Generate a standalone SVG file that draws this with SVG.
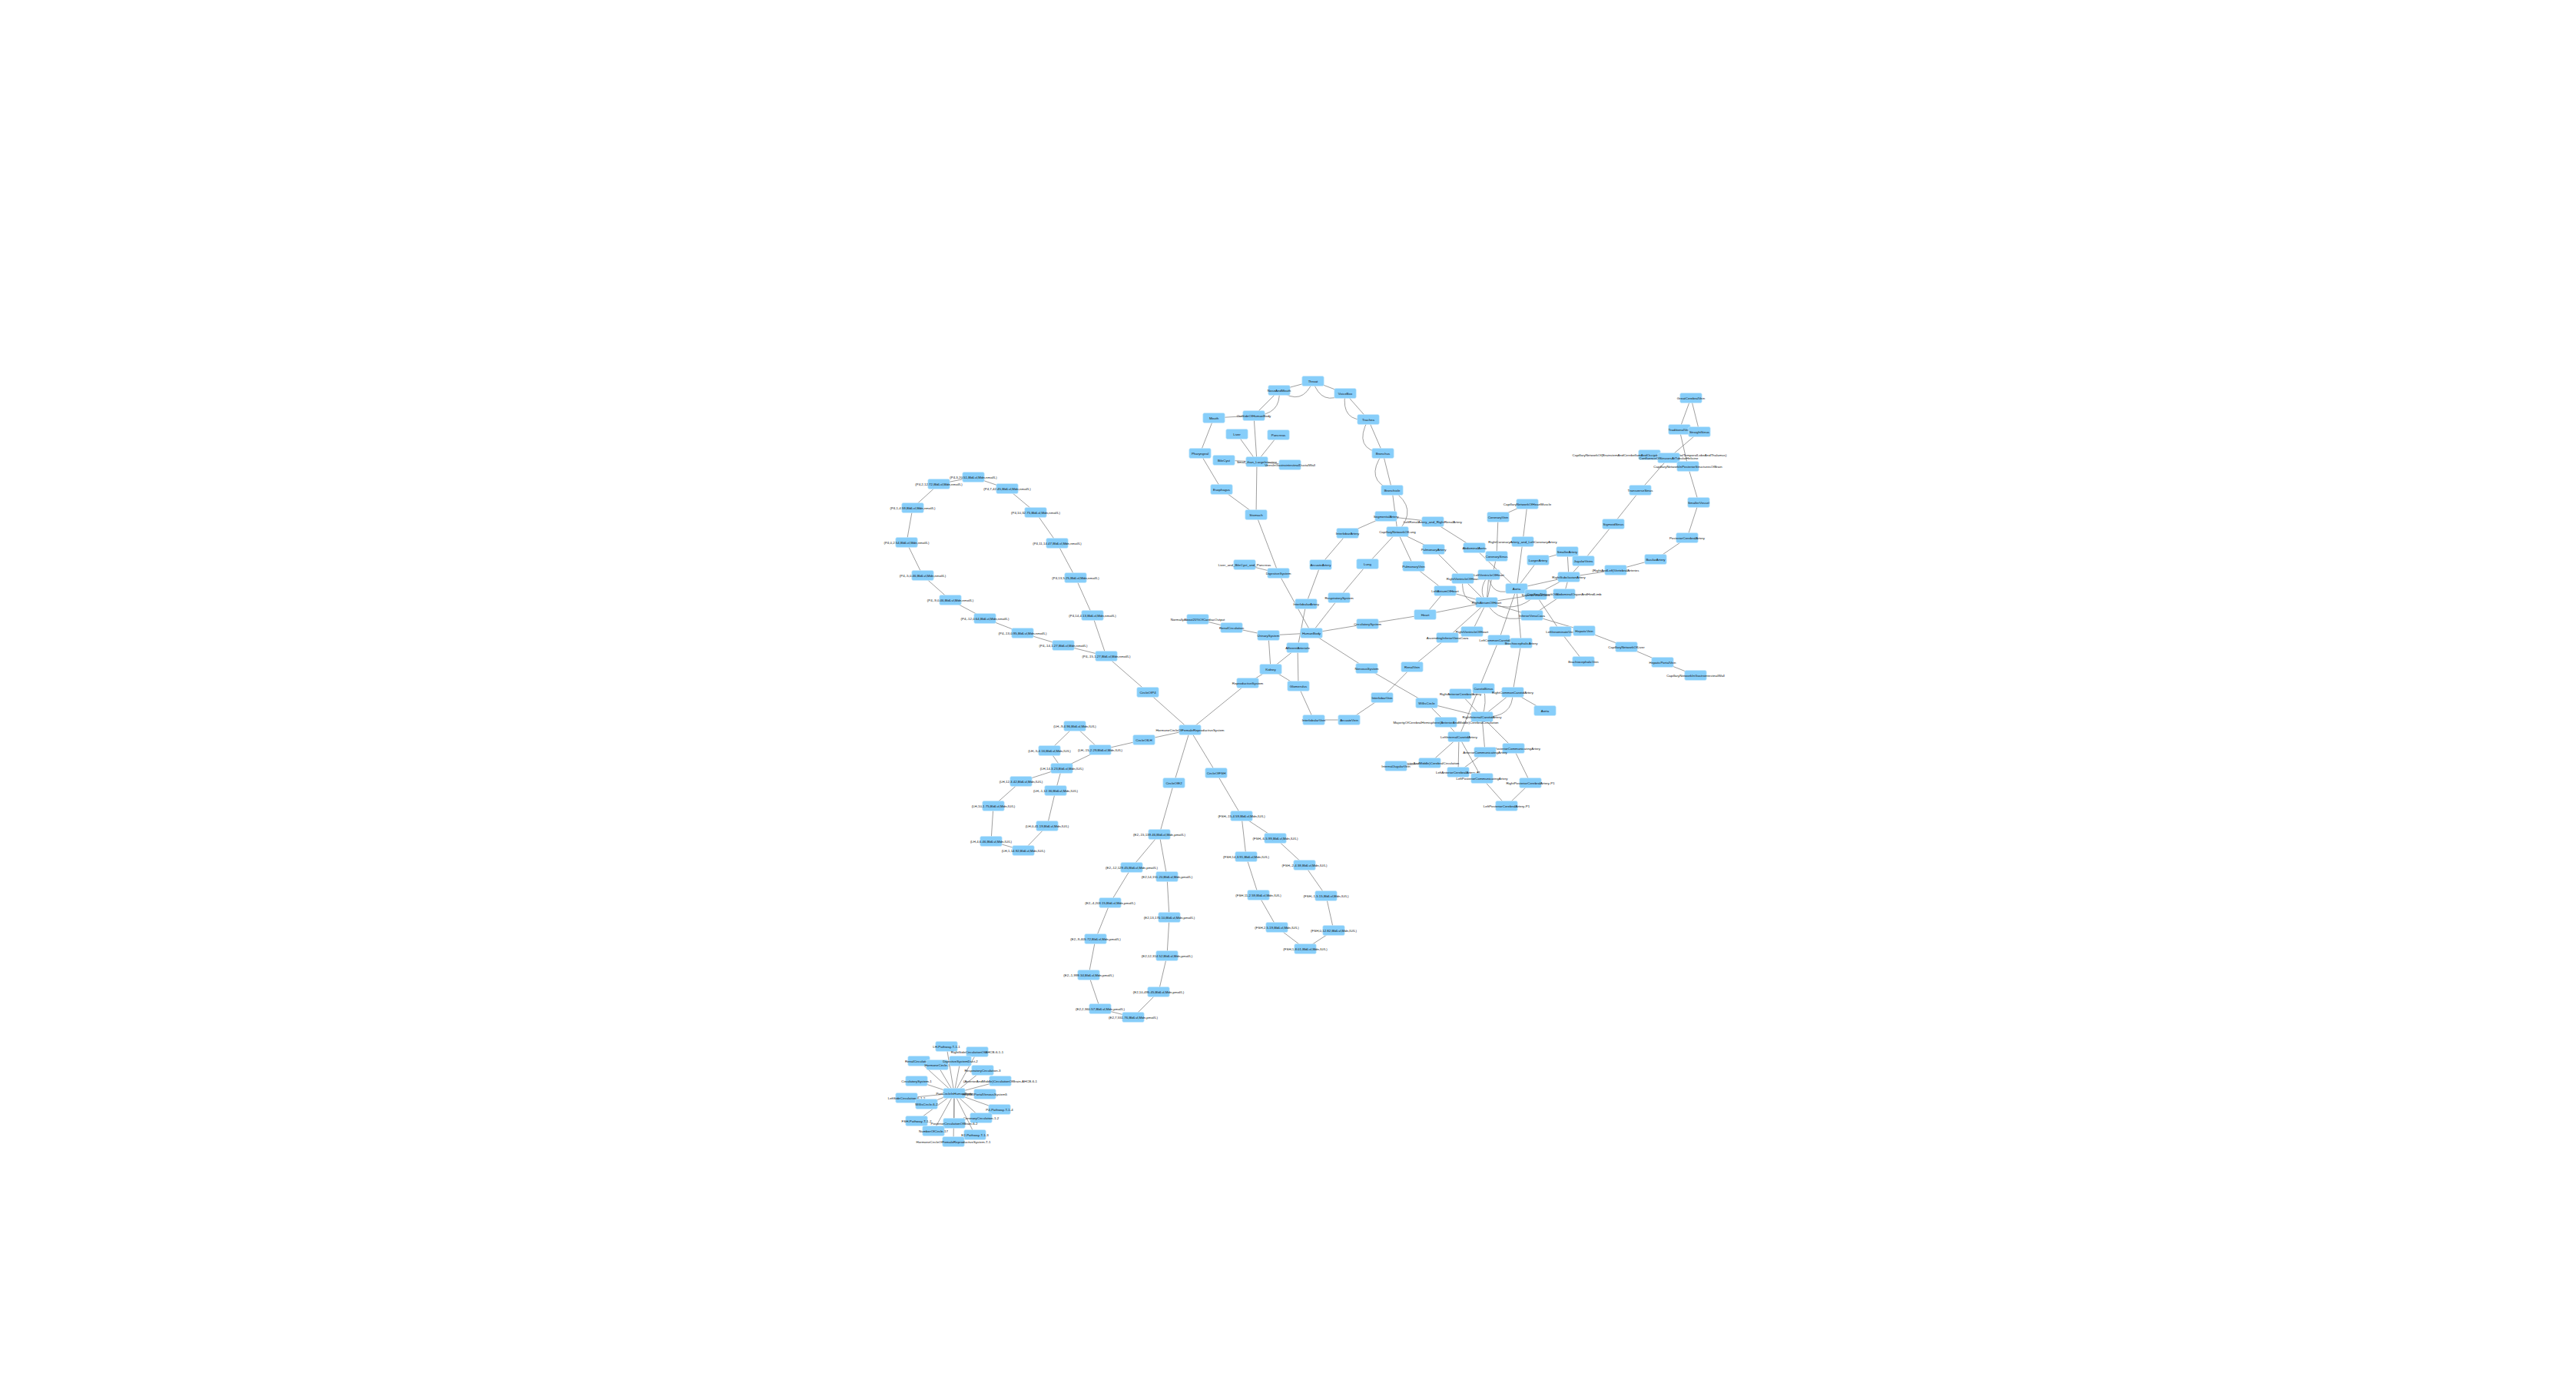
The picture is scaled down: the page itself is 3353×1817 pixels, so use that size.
<svg xmlns="http://www.w3.org/2000/svg" width="3353" height="1817" viewBox="0 0 3353 1817">
<style>
.e line,.e path{stroke:#7d7d7d;stroke-width:0.75;fill:none}
.n use{fill:#87CEFA;stroke:#CDEBFB;stroke-width:0.6}
.n text{font-family:"Liberation Sans",Arial,sans-serif;font-size:4.4px;fill:#111111;text-anchor:middle}
</style>
<defs><rect id="b" x="-14.25" y="-6.5" width="28.5" height="13" rx="2"/></defs>
<rect width="3353" height="1817" fill="#ffffff"/>
<g id="edges" class="e">
<line x1="1709" y1="496" x2="1665" y2="508"/>
<line x1="1709" y1="496" x2="1751" y2="512"/>
<line x1="1665" y1="508" x2="1632" y2="541"/>
<line x1="1751" y1="512" x2="1781" y2="546"/>
<line x1="1781" y1="546" x2="1800" y2="590"/>
<line x1="1800" y1="590" x2="1812" y2="638"/>
<line x1="1812" y1="638" x2="1819" y2="692"/>
<path d="M1709,496 Q1695,530 1665,508"/>
<path d="M1709,496 Q1720,530 1751,512"/>
<path d="M1665,508 Q1668,540 1632,541"/>
<path d="M1751,512 Q1745,550 1781,546"/>
<path d="M1781,546 Q1760,585 1800,590"/>
<path d="M1800,590 Q1775,625 1812,638"/>
<path d="M1812,638 Q1848,662 1819,692"/>
<line x1="1580" y1="544" x2="1632" y2="541"/>
<line x1="1580" y1="544" x2="1562" y2="590"/>
<line x1="1562" y1="590" x2="1590" y2="637"/>
<line x1="1590" y1="637" x2="1635" y2="670"/>
<line x1="1632" y1="541" x2="1636" y2="601"/>
<line x1="1610" y1="565" x2="1636" y2="601"/>
<line x1="1664" y1="566" x2="1636" y2="601"/>
<line x1="1593" y1="599" x2="1636" y2="601"/>
<line x1="1636" y1="601" x2="1679" y2="605"/>
<line x1="1636" y1="601" x2="1635" y2="670"/>
<line x1="1635" y1="670" x2="1664" y2="746"/>
<line x1="1620" y1="735" x2="1664" y2="746"/>
<line x1="1664" y1="746" x2="1707" y2="824"/>
<line x1="1804" y1="672" x2="1754" y2="694"/>
<line x1="1804" y1="672" x2="1865" y2="679"/>
<line x1="1865" y1="679" x2="1919" y2="713"/>
<line x1="1754" y1="694" x2="1719" y2="735"/>
<line x1="1719" y1="735" x2="1700" y2="786"/>
<line x1="1700" y1="786" x2="1689" y2="843"/>
<line x1="1819" y1="692" x2="1780" y2="734"/>
<line x1="1819" y1="692" x2="1866" y2="715"/>
<line x1="1819" y1="692" x2="1840" y2="737"/>
<line x1="1780" y1="734" x2="1743" y2="778"/>
<line x1="1866" y1="715" x2="1904" y2="753"/>
<line x1="1840" y1="737" x2="1881" y2="769"/>
<line x1="1881" y1="769" x2="1855" y2="800"/>
<line x1="1881" y1="769" x2="1935" y2="784"/>
<line x1="1855" y1="800" x2="1935" y2="784"/>
<line x1="1855" y1="800" x2="1780" y2="812"/>
<line x1="1780" y1="812" x2="1707" y2="824"/>
<line x1="1707" y1="824" x2="1743" y2="778"/>
<line x1="1707" y1="824" x2="1651" y2="827"/>
<line x1="1707" y1="824" x2="1779" y2="870"/>
<line x1="1651" y1="827" x2="1603" y2="817"/>
<line x1="1603" y1="817" x2="1559" y2="806"/>
<line x1="1651" y1="827" x2="1654" y2="871"/>
<line x1="1654" y1="871" x2="1689" y2="843"/>
<line x1="1654" y1="871" x2="1690" y2="893"/>
<line x1="1689" y1="843" x2="1690" y2="893"/>
<line x1="1690" y1="893" x2="1710" y2="937"/>
<line x1="1710" y1="937" x2="1756" y2="937"/>
<line x1="1756" y1="937" x2="1799" y2="908"/>
<line x1="1799" y1="908" x2="1838" y2="868"/>
<line x1="1838" y1="868" x2="1884" y2="830"/>
<line x1="1654" y1="871" x2="1624" y2="889"/>
<line x1="1624" y1="889" x2="1549" y2="950"/>
<line x1="1779" y1="870" x2="1857" y2="915"/>
<line x1="1857" y1="915" x2="1929" y2="933"/>
<line x1="1857" y1="915" x2="1882" y2="940"/>
<line x1="1882" y1="940" x2="1899" y2="959"/>
<line x1="1901" y1="903" x2="1929" y2="933"/>
<line x1="1929" y1="933" x2="1970" y2="974"/>
<line x1="1929" y1="933" x2="1933" y2="979"/>
<line x1="1899" y1="959" x2="1861" y2="993"/>
<line x1="1899" y1="959" x2="1898" y2="1005"/>
<line x1="1899" y1="959" x2="1929" y2="1013"/>
<line x1="1933" y1="979" x2="1898" y2="1005"/>
<line x1="1861" y1="993" x2="1817" y2="997"/>
<line x1="1970" y1="974" x2="1992" y2="1019"/>
<line x1="1929" y1="1013" x2="1961" y2="1049"/>
<line x1="1992" y1="1019" x2="1961" y2="1049"/>
<line x1="1951" y1="833" x2="1899" y2="959"/>
<line x1="1969" y1="901" x2="1929" y2="933"/>
<line x1="1969" y1="901" x2="2011" y2="925"/>
<line x1="1980" y1="837" x2="1969" y2="901"/>
<path d="M1931,896 Q1936,915 1929,933"/>
<path d="M1969,901 Q1970,935 1929,933"/>
<line x1="1974" y1="766" x2="1980" y2="837"/>
<line x1="1974" y1="766" x2="1951" y2="833"/>
<line x1="1974" y1="766" x2="1919" y2="713"/>
<line x1="1974" y1="766" x2="1982" y2="705"/>
<line x1="1974" y1="766" x2="2002" y2="729"/>
<line x1="1974" y1="766" x2="2042" y2="751"/>
<line x1="1982" y1="705" x2="1988" y2="656"/>
<line x1="1988" y1="656" x2="1950" y2="673"/>
<line x1="1950" y1="673" x2="1948" y2="724"/>
<line x1="1948" y1="724" x2="1935" y2="784"/>
<line x1="2002" y1="729" x2="2040" y2="718"/>
<line x1="2040" y1="718" x2="2042" y2="751"/>
<line x1="2061" y1="730" x2="2042" y2="751"/>
<line x1="2042" y1="751" x2="1999" y2="774"/>
<line x1="2042" y1="751" x2="2036" y2="773"/>
<line x1="2042" y1="751" x2="2103" y2="742"/>
<line x1="2103" y1="742" x2="2155" y2="728"/>
<line x1="2155" y1="728" x2="2196" y2="700"/>
<line x1="2196" y1="700" x2="2211" y2="654"/>
<line x1="2211" y1="654" x2="2197" y2="607"/>
<line x1="2197" y1="607" x2="2186" y2="559"/>
<line x1="2186" y1="559" x2="2201" y2="518"/>
<line x1="2201" y1="518" x2="2212" y2="562"/>
<line x1="2212" y1="562" x2="2172" y2="596"/>
<line x1="2172" y1="596" x2="2135" y2="638"/>
<line x1="2135" y1="638" x2="2100" y2="682"/>
<line x1="2100" y1="682" x2="2061" y2="730"/>
<line x1="1904" y1="753" x2="1935" y2="784"/>
<line x1="1938" y1="748" x2="1935" y2="784"/>
<line x1="1935" y1="784" x2="1999" y2="774"/>
<line x1="1935" y1="784" x2="1994" y2="801"/>
<line x1="1935" y1="784" x2="1916" y2="822"/>
<line x1="1935" y1="784" x2="1884" y2="830"/>
<path d="M1904,753 Q1900,790 1935,784"/>
<path d="M1938,748 Q1922,768 1935,784"/>
<path d="M1938,748 Q1940,780 1974,766"/>
<path d="M1935,784 Q1950,815 1994,801"/>
<path d="M1935,784 Q1975,800 1999,774"/>
<line x1="1999" y1="774" x2="2031" y2="822"/>
<line x1="2031" y1="822" x2="2061" y2="861"/>
<line x1="1994" y1="801" x2="2062" y2="821"/>
<line x1="1994" y1="801" x2="2036" y2="773"/>
<line x1="2062" y1="821" x2="2117" y2="842"/>
<line x1="2117" y1="842" x2="2164" y2="862"/>
<line x1="2164" y1="862" x2="2207" y2="879"/>
<line x1="1549" y1="950" x2="1494" y2="901"/>
<line x1="1549" y1="950" x2="1489" y2="963"/>
<line x1="1549" y1="950" x2="1528" y2="1019"/>
<line x1="1549" y1="950" x2="1583" y2="1006"/>
<line x1="1494" y1="901" x2="1440" y2="854"/>
<line x1="1489" y1="963" x2="1432" y2="976"/>
<line x1="1528" y1="1019" x2="1509" y2="1086"/>
<line x1="1583" y1="1006" x2="1616" y2="1062"/>
<line x1="1267" y1="621" x2="1311" y2="636"/>
<line x1="1311" y1="636" x2="1348" y2="667"/>
<line x1="1348" y1="667" x2="1376" y2="707"/>
<line x1="1376" y1="707" x2="1400" y2="752"/>
<line x1="1400" y1="752" x2="1422" y2="801"/>
<line x1="1422" y1="801" x2="1440" y2="854"/>
<line x1="1440" y1="854" x2="1384" y2="840"/>
<line x1="1384" y1="840" x2="1331" y2="824"/>
<line x1="1331" y1="824" x2="1282" y2="805"/>
<line x1="1282" y1="805" x2="1237" y2="781"/>
<line x1="1237" y1="781" x2="1201" y2="749"/>
<line x1="1201" y1="749" x2="1180" y2="706"/>
<line x1="1180" y1="706" x2="1188" y2="661"/>
<line x1="1188" y1="661" x2="1222" y2="630"/>
<line x1="1222" y1="630" x2="1267" y2="621"/>
<line x1="1399" y1="945" x2="1366" y2="977"/>
<line x1="1399" y1="945" x2="1432" y2="976"/>
<line x1="1432" y1="976" x2="1382" y2="1000"/>
<line x1="1366" y1="977" x2="1382" y2="1000"/>
<line x1="1382" y1="1000" x2="1329" y2="1017"/>
<line x1="1382" y1="1000" x2="1374" y2="1029"/>
<line x1="1329" y1="1017" x2="1293" y2="1049"/>
<line x1="1293" y1="1049" x2="1290" y2="1095"/>
<line x1="1290" y1="1095" x2="1332" y2="1107"/>
<line x1="1332" y1="1107" x2="1363" y2="1075"/>
<line x1="1363" y1="1075" x2="1374" y2="1029"/>
<line x1="1509" y1="1086" x2="1473" y2="1129"/>
<line x1="1509" y1="1086" x2="1519" y2="1141"/>
<line x1="1473" y1="1129" x2="1445" y2="1175"/>
<line x1="1445" y1="1175" x2="1426" y2="1222"/>
<line x1="1426" y1="1222" x2="1417" y2="1269"/>
<line x1="1417" y1="1269" x2="1432" y2="1313"/>
<line x1="1432" y1="1313" x2="1475" y2="1324"/>
<line x1="1475" y1="1324" x2="1508" y2="1291"/>
<line x1="1508" y1="1291" x2="1519" y2="1244"/>
<line x1="1519" y1="1244" x2="1522" y2="1194"/>
<line x1="1522" y1="1194" x2="1519" y2="1141"/>
<line x1="1616" y1="1062" x2="1660" y2="1091"/>
<line x1="1616" y1="1062" x2="1622" y2="1115"/>
<line x1="1660" y1="1091" x2="1698" y2="1126"/>
<line x1="1698" y1="1126" x2="1726" y2="1166"/>
<line x1="1726" y1="1166" x2="1736" y2="1211"/>
<line x1="1736" y1="1211" x2="1699" y2="1235"/>
<line x1="1699" y1="1235" x2="1662" y2="1207"/>
<line x1="1662" y1="1207" x2="1638" y2="1165"/>
<line x1="1638" y1="1165" x2="1622" y2="1115"/>
<line x1="1242" y1="1423" x2="1232" y2="1362"/>
<line x1="1242" y1="1423" x2="1272" y2="1369"/>
<line x1="1242" y1="1423" x2="1196" y2="1381"/>
<line x1="1242" y1="1423" x2="1220" y2="1386"/>
<line x1="1242" y1="1423" x2="1250" y2="1381"/>
<line x1="1242" y1="1423" x2="1279" y2="1393"/>
<line x1="1242" y1="1423" x2="1193" y2="1407"/>
<line x1="1242" y1="1423" x2="1302" y2="1407"/>
<line x1="1242" y1="1423" x2="1180" y2="1429"/>
<line x1="1242" y1="1423" x2="1206" y2="1437"/>
<line x1="1242" y1="1423" x2="1282" y2="1424"/>
<line x1="1242" y1="1423" x2="1301" y2="1444"/>
<line x1="1242" y1="1423" x2="1277" y2="1455"/>
<line x1="1242" y1="1423" x2="1193" y2="1459"/>
<line x1="1242" y1="1423" x2="1242" y2="1462"/>
<line x1="1242" y1="1423" x2="1215" y2="1472"/>
<line x1="1242" y1="1423" x2="1269" y2="1477"/>
<line x1="1242" y1="1423" x2="1241" y2="1486"/>
</g>
<g id="nodes">
<g id="n-Throat" class="n"><use href="#b" x="1709" y="496"/><text x="1709" y="497.6">Throat</text></g>
<g id="n-NoseAndMouth" class="n"><use href="#b" x="1665" y="508"/><text x="1665" y="509.6">NoseAndMouth</text></g>
<g id="n-VoiceBox" class="n"><use href="#b" x="1751" y="512"/><text x="1751" y="513.6">VoiceBox</text></g>
<g id="n-OutSideOfHumanBody" class="n"><use href="#b" x="1632" y="541"/><text x="1632" y="542.6">OutSideOfHumanBody</text></g>
<g id="n-Mouth" class="n"><use href="#b" x="1580" y="544"/><text x="1580" y="545.6">Mouth</text></g>
<g id="n-Trachea" class="n"><use href="#b" x="1781" y="546"/><text x="1781" y="547.6">Trachea</text></g>
<g id="n-Liver" class="n"><use href="#b" x="1610" y="565"/><text x="1610" y="566.6">Liver</text></g>
<g id="n-Pancreas" class="n"><use href="#b" x="1664" y="566"/><text x="1664" y="567.6">Pancreas</text></g>
<g id="n-Pharyngeal" class="n"><use href="#b" x="1562" y="590"/><text x="1562" y="591.6">Pharyngeal</text></g>
<g id="n-Bronchus" class="n"><use href="#b" x="1800" y="590"/><text x="1800" y="591.6">Bronchus</text></g>
<g id="n-BileCyst" class="n"><use href="#b" x="1593" y="599"/><text x="1593" y="600.6">BileCyst</text></g>
<g id="n-SmallLargeIntestine" class="n"><use href="#b" x="1636" y="601"/><text x="1636" y="602.6">Small_than_LargeIntestine</text></g>
<g id="n-VeinsInGIWall" class="n"><use href="#b" x="1679" y="605"/><text x="1679" y="606.6">VeinsInGastrointestinalDuctalWall</text></g>
<g id="n-Esophagus" class="n"><use href="#b" x="1590" y="637"/><text x="1590" y="638.6">Esophagus</text></g>
<g id="n-Bronchiole" class="n"><use href="#b" x="1812" y="638"/><text x="1812" y="639.6">Bronchiole</text></g>
<g id="n-Stomach" class="n"><use href="#b" x="1635" y="670"/><text x="1635" y="671.6">Stomach</text></g>
<g id="n-SegmentalArtery" class="n"><use href="#b" x="1804" y="672"/><text x="1804" y="673.6">SegmentalArtery</text></g>
<g id="n-RenalArteries" class="n"><use href="#b" x="1865" y="679"/><text x="1865" y="680.6">LeftRenalArtery_and_RightRenalArtery</text></g>
<g id="n-CapillaryNetworkOfLung" class="n"><use href="#b" x="1819" y="692"/><text x="1819" y="693.6">CapillaryNetworkOfLung</text></g>
<g id="n-InterlobarArtery" class="n"><use href="#b" x="1754" y="694"/><text x="1754" y="695.6">InterlobarArtery</text></g>
<g id="n-PulmonaryArtery" class="n"><use href="#b" x="1866" y="715"/><text x="1866" y="716.6">PulmonaryArtery</text></g>
<g id="n-AbdominalAorta" class="n"><use href="#b" x="1919" y="713"/><text x="1919" y="714.6">AbdominalAorta</text></g>
<g id="n-ArcuateArtery" class="n"><use href="#b" x="1719" y="735"/><text x="1719" y="736.6">ArcuateArtery</text></g>
<g id="n-Lung" class="n"><use href="#b" x="1780" y="734"/><text x="1780" y="735.6">Lung</text></g>
<g id="n-LiverBileCystPancreas" class="n"><use href="#b" x="1620" y="735"/><text x="1620" y="736.6">Liver_and_BileCyst_and_Pancreas</text></g>
<g id="n-PulmonaryVein" class="n"><use href="#b" x="1840" y="737"/><text x="1840" y="738.6">PulmonaryVein</text></g>
<g id="n-DigestiveSystem" class="n"><use href="#b" x="1664" y="746"/><text x="1664" y="747.6">DigestiveSystem</text></g>
<g id="n-RightVentricleOfHeart" class="n"><use href="#b" x="1904" y="753"/><text x="1904" y="754.6">RightVentricleOfHeart</text></g>
<g id="n-LeftVentricleOfHeart" class="n"><use href="#b" x="1938" y="748"/><text x="1938" y="749.6">LeftVentricleOfHeart</text></g>
<g id="n-LeftAtriumOfHeart" class="n"><use href="#b" x="1881" y="769"/><text x="1881" y="770.6">LeftAtriumOfHeart</text></g>
<g id="n-RespiratorySystem" class="n"><use href="#b" x="1743" y="778"/><text x="1743" y="779.6">RespiratorySystem</text></g>
<g id="n-InterlobularArtery" class="n"><use href="#b" x="1700" y="786"/><text x="1700" y="787.6">InterlobularArtery</text></g>
<g id="n-RightAtriumOfHeart" class="n"><use href="#b" x="1935" y="784"/><text x="1935" y="785.6">RightAtriumOfHeart</text></g>
<g id="n-Heart" class="n"><use href="#b" x="1855" y="800"/><text x="1855" y="801.6">Heart</text></g>
<g id="n-CardiacOutput" class="n"><use href="#b" x="1559" y="806"/><text x="1559" y="807.6">NormallyAbout20%OfCardiacOutput</text></g>
<g id="n-RenalCirculation" class="n"><use href="#b" x="1603" y="817"/><text x="1603" y="818.6">RenalCirculation</text></g>
<g id="n-UrinarySystem" class="n"><use href="#b" x="1651" y="827"/><text x="1651" y="828.6">UrinarySystem</text></g>
<g id="n-HumanBody" class="n"><use href="#b" x="1707" y="824"/><text x="1707" y="825.6">HumanBody</text></g>
<g id="n-CirculatorySystem" class="n"><use href="#b" x="1780" y="812"/><text x="1780" y="813.6">CirculatorySystem</text></g>
<g id="n-RightVentricleOfHeart2" class="n"><use href="#b" x="1916" y="822"/><text x="1916" y="823.6">RightVentricleOfHeart</text></g>
<g id="n-AscendingInferiorVenaCava" class="n"><use href="#b" x="1884" y="830"/><text x="1884" y="831.6">AscendingInferiorVenaCava</text></g>
<g id="n-AfferentArteriole" class="n"><use href="#b" x="1689" y="843"/><text x="1689" y="844.6">AfferentArteriole</text></g>
<g id="n-Kidney" class="n"><use href="#b" x="1654" y="871"/><text x="1654" y="872.6">Kidney</text></g>
<g id="n-NervousSystem" class="n"><use href="#b" x="1779" y="870"/><text x="1779" y="871.6">NervousSystem</text></g>
<g id="n-RenalVein" class="n"><use href="#b" x="1838" y="868"/><text x="1838" y="869.6">RenalVein</text></g>
<g id="n-ReproductiveSystem" class="n"><use href="#b" x="1624" y="889"/><text x="1624" y="890.6">ReproductiveSystem</text></g>
<g id="n-Glomerulus" class="n"><use href="#b" x="1690" y="893"/><text x="1690" y="894.6">Glomerulus</text></g>
<g id="n-InterlobarVein" class="n"><use href="#b" x="1799" y="908"/><text x="1799" y="909.6">InterlobarVein</text></g>
<g id="n-WillisCircle" class="n"><use href="#b" x="1857" y="915"/><text x="1857" y="916.6">WillisCircle</text></g>
<g id="n-RightAnteriorCerebralArtery" class="n"><use href="#b" x="1901" y="903"/><text x="1901" y="904.6">RightAnteriorCerebralArtery</text></g>
<g id="n-CarotidSinus" class="n"><use href="#b" x="1931" y="896"/><text x="1931" y="897.6">CarotidSinus</text></g>
<g id="n-InterlobularVein" class="n"><use href="#b" x="1710" y="937"/><text x="1710" y="938.6">InterlobularVein</text></g>
<g id="n-ArcuateVein" class="n"><use href="#b" x="1756" y="937"/><text x="1756" y="938.6">ArcuateVein</text></g>
<g id="n-RightInternalCarotidArtery" class="n"><use href="#b" x="1929" y="933"/><text x="1929" y="934.6">RightInternalCarotidArtery</text></g>
<g id="n-MajorityCerebralCirculation" class="n"><use href="#b" x="1882" y="940"/><text x="1882" y="941.6">MajorityOfCerebralHemisphere(AnteriorAndMiddle)CerebralCirculation</text></g>
<g id="n-HormoneCircleOfFemaleReproductiveSystem" class="n"><use href="#b" x="1549" y="950"/><text x="1549" y="951.6">HormoneCircleOfFemaleReproductiveSystem</text></g>
<g id="n-LeftInternalCarotidArtery" class="n"><use href="#b" x="1899" y="959"/><text x="1899" y="960.6">LeftInternalCarotidArtery</text></g>
<g id="n-AnteriorMiddleCerebralCirculation" class="n"><use href="#b" x="1861" y="993"/><text x="1861" y="994.6">(AnteriorAndMiddle)CerebralCirculation</text></g>
<g id="n-InternalJugularVein" class="n"><use href="#b" x="1817" y="997"/><text x="1817" y="998.6">InternalJugularVein</text></g>
<g id="n-RightCommonCarotidArtery" class="n"><use href="#b" x="1969" y="901"/><text x="1969" y="902.6">RightCommonCarotidArtery</text></g>
<g id="n-Aorta2" class="n"><use href="#b" x="2011" y="925"/><text x="2011" y="926.6">Aorta</text></g>
<g id="n-RightPosteriorCommunicatingArtery" class="n"><use href="#b" x="1970" y="974"/><text x="1970" y="975.6">RightPosteriorCommunicatingArtery</text></g>
<g id="n-AnteriorCommunicatingArtery" class="n"><use href="#b" x="1933" y="979"/><text x="1933" y="980.6">AnteriorCommunicatingArtery</text></g>
<g id="n-LeftAnteriorCerebralArteryA1" class="n"><use href="#b" x="1898" y="1005"/><text x="1898" y="1006.6">LeftAnteriorCerebralArtery-A1</text></g>
<g id="n-LeftPosteriorCommunicatingArtery" class="n"><use href="#b" x="1929" y="1013"/><text x="1929" y="1014.6">LeftPosteriorCommunicatingArtery</text></g>
<g id="n-RightPosteriorCerebralArteryP1" class="n"><use href="#b" x="1992" y="1019"/><text x="1992" y="1020.6">RightPosteriorCerebralArtery-P1</text></g>
<g id="n-LeftPosteriorCerebralArteryP1" class="n"><use href="#b" x="1961" y="1049"/><text x="1961" y="1050.6">LeftPosteriorCerebralArtery-P1</text></g>
<g id="n-CoronaryArteries" class="n"><use href="#b" x="1982" y="705"/><text x="1982" y="706.6">RightCoronaryArtery_and_LeftCoronaryArtery</text></g>
<g id="n-CoronarySinus" class="n"><use href="#b" x="1948" y="724"/><text x="1948" y="725.6">CoronarySinus</text></g>
<g id="n-SmallerArtery" class="n"><use href="#b" x="2040" y="718"/><text x="2040" y="719.6">SmallerArtery</text></g>
<g id="n-LargerArtery" class="n"><use href="#b" x="2002" y="729"/><text x="2002" y="730.6">LargerArtery</text></g>
<g id="n-JugularVeins" class="n"><use href="#b" x="2061" y="730"/><text x="2061" y="731.6">JugularVeins</text></g>
<g id="n-BasilarArtery" class="n"><use href="#b" x="2155" y="728"/><text x="2155" y="729.6">BasilarArtery</text></g>
<g id="n-VertebralArteries" class="n"><use href="#b" x="2103" y="742"/><text x="2103" y="743.6">(RightAndLeft)VertebralArteries</text></g>
<g id="n-RightSubclavianArtery" class="n"><use href="#b" x="2042" y="751"/><text x="2042" y="752.6">RightSubclavianArtery</text></g>
<g id="n-Aorta" class="n"><use href="#b" x="1974" y="766"/><text x="1974" y="767.6">Aorta</text></g>
<g id="n-SuperiorVenaCava" class="n"><use href="#b" x="1999" y="774"/><text x="1999" y="775.6">SuperiorVenaCava</text></g>
<g id="n-CNAbdominalOrgan" class="n"><use href="#b" x="2036" y="773"/><text x="2036" y="774.6">CapillaryNetworkOfAbdominalOrganAndHindLimb</text></g>
<g id="n-InferiorVenaCava" class="n"><use href="#b" x="1994" y="801"/><text x="1994" y="802.6">InferiorVenaCava</text></g>
<g id="n-LeftInnominateVein" class="n"><use href="#b" x="2031" y="822"/><text x="2031" y="823.6">LeftInnominateVein</text></g>
<g id="n-HepaticVein" class="n"><use href="#b" x="2062" y="821"/><text x="2062" y="822.6">HepaticVein</text></g>
<g id="n-LeftCommonCarotidArtery" class="n"><use href="#b" x="1951" y="833"/><text x="1951" y="834.6">LeftCommonCarotidArtery</text></g>
<g id="n-BrachiocephalicArtery" class="n"><use href="#b" x="1980" y="837"/><text x="1980" y="838.6">BrachiocephalicArtery</text></g>
<g id="n-CapillaryNetworkOfLiver" class="n"><use href="#b" x="2117" y="842"/><text x="2117" y="843.6">CapillaryNetworkOfLiver</text></g>
<g id="n-BrachiocephalicVein" class="n"><use href="#b" x="2061" y="861"/><text x="2061" y="862.6">BrachiocephalicVein</text></g>
<g id="n-HepaticPortalVein" class="n"><use href="#b" x="2164" y="862"/><text x="2164" y="863.6">HepaticPortalVein</text></g>
<g id="n-CNGastrointestinalWall" class="n"><use href="#b" x="2207" y="879"/><text x="2207" y="880.6">CapillaryNetworkInGastrointestinalWall</text></g>
<g id="n-GreatCerebralVein" class="n"><use href="#b" x="2201" y="518"/><text x="2201" y="519.6">GreatCerebralVein</text></g>
<g id="n-TraditionalVein" class="n"><use href="#b" x="2186" y="559"/><text x="2186" y="560.6">TraditionalVein</text></g>
<g id="n-StraightSinus" class="n"><use href="#b" x="2212" y="562"/><text x="2212" y="563.6">StraightSinus</text></g>
<g id="n-CNBrainstem" class="n"><use href="#b" x="2147" y="592"/><text x="2147" y="593.6">CapillaryNetworkOf(BrainstemAndCerebellumAndOccipitalLobeAndMedialTemporalLobeAndThalamus)</text></g>
<g id="n-Confluence" class="n"><use href="#b" x="2172" y="596"/><text x="2172" y="597.6">ConfluenceOfSinusesAtTubularHelicine</text></g>
<g id="n-CNPosteriorBrain" class="n"><use href="#b" x="2197" y="607"/><text x="2197" y="608.6">CapillaryNetworkInPosteriorStructuresOfBrain</text></g>
<g id="n-TransverseSinus" class="n"><use href="#b" x="2135" y="638"/><text x="2135" y="639.6">TransverseSinus</text></g>
<g id="n-SmallerVessel" class="n"><use href="#b" x="2211" y="654"/><text x="2211" y="655.6">SmallerVessel</text></g>
<g id="n-CNHeartMuscle" class="n"><use href="#b" x="1988" y="656"/><text x="1988" y="657.6">CapillaryNetworkOfHeartMuscle</text></g>
<g id="n-CoronaryVein" class="n"><use href="#b" x="1950" y="673"/><text x="1950" y="674.6">CoronaryVein</text></g>
<g id="n-SigmoidSinus" class="n"><use href="#b" x="2100" y="682"/><text x="2100" y="683.6">SigmoidSinus</text></g>
<g id="n-PosteriorCerebralArtery" class="n"><use href="#b" x="2196" y="700"/><text x="2196" y="701.6">PosteriorCerebralArtery</text></g>
<g id="n-CircleOfP4" class="n"><use href="#b" x="1494" y="901"/><text x="1494" y="902.6">CircleOfP4</text></g>
<g id="n-CircleOfLH" class="n"><use href="#b" x="1489" y="963"/><text x="1489" y="964.6">CircleOfLH</text></g>
<g id="n-CircleOfE2" class="n"><use href="#b" x="1528" y="1019"/><text x="1528" y="1020.6">CircleOfE2</text></g>
<g id="n-CircleOfFSH" class="n"><use href="#b" x="1583" y="1006"/><text x="1583" y="1007.6">CircleOfFSH</text></g>
<g id="n-P4-3" class="n"><use href="#b" x="1267" y="621"/><text x="1267" y="622.6">(P4,3,20.51,BldLvl,Mdn,nmol/L)</text></g>
<g id="n-P4-2" class="n"><use href="#b" x="1222" y="630"/><text x="1222" y="631.6">(P4,2,12.72,BldLvl,Mdn,nmol/L)</text></g>
<g id="n-P4-7" class="n"><use href="#b" x="1311" y="636"/><text x="1311" y="637.6">(P4,7,42.45,BldLvl,Mdn,nmol/L)</text></g>
<g id="n-P4-1" class="n"><use href="#b" x="1188" y="661"/><text x="1188" y="662.6">(P4,1,4.59,BldLvl,Mdn,nmol/L)</text></g>
<g id="n-P4-10" class="n"><use href="#b" x="1348" y="667"/><text x="1348" y="668.6">(P4,10,32.75,BldLvl,Mdn,nmol/L)</text></g>
<g id="n-P4-0" class="n"><use href="#b" x="1180" y="706"/><text x="1180" y="707.6">(P4,0,2.54,BldLvl,Mdn,nmol/L)</text></g>
<g id="n-P4-11" class="n"><use href="#b" x="1376" y="707"/><text x="1376" y="708.6">(P4,11,14.47,BldLvl,Mdn,nmol/L)</text></g>
<g id="n-P4-m5" class="n"><use href="#b" x="1201" y="749"/><text x="1201" y="750.6">(P4,-5,0.46,BldLvl,Mdn,nmol/L)</text></g>
<g id="n-P4-13" class="n"><use href="#b" x="1400" y="752"/><text x="1400" y="753.6">(P4,13,5.25,BldLvl,Mdn,nmol/L)</text></g>
<g id="n-P4-m9" class="n"><use href="#b" x="1237" y="781"/><text x="1237" y="782.6">(P4,-9,0.46,BldLvl,Mdn,nmol/L)</text></g>
<g id="n-P4-14" class="n"><use href="#b" x="1422" y="801"/><text x="1422" y="802.6">(P4,14,4.13,BldLvl,Mdn,nmol/L)</text></g>
<g id="n-P4-m12" class="n"><use href="#b" x="1282" y="805"/><text x="1282" y="806.6">(P4,-12,0.64,BldLvl,Mdn,nmol/L)</text></g>
<g id="n-P4-m13" class="n"><use href="#b" x="1331" y="824"/><text x="1331" y="825.6">(P4,-13,0.95,BldLvl,Mdn,nmol/L)</text></g>
<g id="n-P4-m14" class="n"><use href="#b" x="1384" y="840"/><text x="1384" y="841.6">(P4,-14,1.27,BldLvl,Mdn,nmol/L)</text></g>
<g id="n-P4-m15" class="n"><use href="#b" x="1440" y="854"/><text x="1440" y="855.6">(P4,-15,1.27,BldLvl,Mdn,nmol/L)</text></g>
<g id="n-LH-m9" class="n"><use href="#b" x="1399" y="945"/><text x="1399" y="946.6">(LH,-9,4.96,BldLvl,Mdn,IU/L)</text></g>
<g id="n-LH-m15" class="n"><use href="#b" x="1432" y="976"/><text x="1432" y="977.6">(LH,-15,2.29,BldLvl,Mdn,IU/L)</text></g>
<g id="n-LH-m5" class="n"><use href="#b" x="1366" y="977"/><text x="1366" y="978.6">(LH,-5,4.16,BldLvl,Mdn,IU/L)</text></g>
<g id="n-LH-14" class="n"><use href="#b" x="1382" y="1000"/><text x="1382" y="1001.6">(LH,14,3.23,BldLvl,Mdn,IU/L)</text></g>
<g id="n-LH-12" class="n"><use href="#b" x="1329" y="1017"/><text x="1329" y="1018.6">(LH,12,3.42,BldLvl,Mdn,IU/L)</text></g>
<g id="n-LH-m1" class="n"><use href="#b" x="1374" y="1029"/><text x="1374" y="1030.6">(LH,-1,12.36,BldLvl,Mdn,IU/L)</text></g>
<g id="n-LH-10" class="n"><use href="#b" x="1293" y="1049"/><text x="1293" y="1050.6">(LH,10,1.75,BldLvl,Mdn,IU/L)</text></g>
<g id="n-LH-0" class="n"><use href="#b" x="1363" y="1075"/><text x="1363" y="1076.6">(LH,0,41.19,BldLvl,Mdn,IU/L)</text></g>
<g id="n-LH-4" class="n"><use href="#b" x="1290" y="1095"/><text x="1290" y="1096.6">(LH,4,6.46,BldLvl,Mdn,IU/L)</text></g>
<g id="n-LH-1" class="n"><use href="#b" x="1332" y="1107"/><text x="1332" y="1108.6">(LH,1,14.92,BldLvl,Mdn,IU/L)</text></g>
<g id="n-E2-m15" class="n"><use href="#b" x="1509" y="1086"/><text x="1509" y="1087.6">(E2,-15,139.46,BldLvl,Mdn,pmol/L)</text></g>
<g id="n-E2-m12" class="n"><use href="#b" x="1473" y="1129"/><text x="1473" y="1130.6">(E2,-12,129.45,BldLvl,Mdn,pmol/L)</text></g>
<g id="n-E2-14" class="n"><use href="#b" x="1519" y="1141"/><text x="1519" y="1142.6">(E2,14,151.20,BldLvl,Mdn,pmol/L)</text></g>
<g id="n-E2-m4" class="n"><use href="#b" x="1445" y="1175"/><text x="1445" y="1176.6">(E2,-4,203.15,BldLvl,Mdn,pmol/L)</text></g>
<g id="n-E2-13" class="n"><use href="#b" x="1522" y="1194"/><text x="1522" y="1195.6">(E2,13,170.10,BldLvl,Mdn,pmol/L)</text></g>
<g id="n-E2-m9" class="n"><use href="#b" x="1426" y="1222"/><text x="1426" y="1223.6">(E2,-9,405.72,BldLvl,Mdn,pmol/L)</text></g>
<g id="n-E2-12" class="n"><use href="#b" x="1519" y="1244"/><text x="1519" y="1245.6">(E2,12,314.52,BldLvl,Mdn,pmol/L)</text></g>
<g id="n-E2-m1" class="n"><use href="#b" x="1417" y="1269"/><text x="1417" y="1270.6">(E2,-1,999.34,BldLvl,Mdn,pmol/L)</text></g>
<g id="n-E2-10" class="n"><use href="#b" x="1508" y="1291"/><text x="1508" y="1292.6">(E2,10,495.45,BldLvl,Mdn,pmol/L)</text></g>
<g id="n-E2-2" class="n"><use href="#b" x="1432" y="1313"/><text x="1432" y="1314.6">(E2,2,360.57,BldLvl,Mdn,pmol/L)</text></g>
<g id="n-E2-7" class="n"><use href="#b" x="1475" y="1324"/><text x="1475" y="1325.6">(E2,7,551.76,BldLvl,Mdn,pmol/L)</text></g>
<g id="n-FSH-m15" class="n"><use href="#b" x="1616" y="1062"/><text x="1616" y="1063.6">(FSH,-15,4.59,BldLvl,Mdn,IU/L)</text></g>
<g id="n-FSH-m6" class="n"><use href="#b" x="1660" y="1091"/><text x="1660" y="1092.6">(FSH,-6,5.99,BldLvl,Mdn,IU/L)</text></g>
<g id="n-FSH-14" class="n"><use href="#b" x="1622" y="1115"/><text x="1622" y="1116.6">(FSH,14,3.91,BldLvl,Mdn,IU/L)</text></g>
<g id="n-FSH-m2" class="n"><use href="#b" x="1698" y="1126"/><text x="1698" y="1127.6">(FSH,-2,4.38,BldLvl,Mdn,IU/L)</text></g>
<g id="n-FSH-11" class="n"><use href="#b" x="1638" y="1165"/><text x="1638" y="1166.6">(FSH,11,2.59,BldLvl,Mdn,IU/L)</text></g>
<g id="n-FSH-m1" class="n"><use href="#b" x="1726" y="1166"/><text x="1726" y="1167.6">(FSH,-1,5.15,BldLvl,Mdn,IU/L)</text></g>
<g id="n-FSH-2" class="n"><use href="#b" x="1662" y="1207"/><text x="1662" y="1208.6">(FSH,2,5.19,BldLvl,Mdn,IU/L)</text></g>
<g id="n-FSH-0" class="n"><use href="#b" x="1736" y="1211"/><text x="1736" y="1212.6">(FSH,0,12.82,BldLvl,Mdn,IU/L)</text></g>
<g id="n-FSH-1" class="n"><use href="#b" x="1699" y="1235"/><text x="1699" y="1236.6">(FSH,1,8.01,BldLvl,Mdn,IU/L)</text></g>
<g id="n-LHPathway" class="n"><use href="#b" x="1232" y="1362"/><text x="1232" y="1363.6">LH-Pathway-T-1-1</text></g>
<g id="n-RightSideCirculation" class="n"><use href="#b" x="1272" y="1369"/><text x="1272" y="1370.6">RightSideCirculationOfAHCB-6-1-1</text></g>
<g id="n-RenalCirculation4" class="n"><use href="#b" x="1196" y="1381"/><text x="1196" y="1382.6">RenalCirculation-4</text></g>
<g id="n-HormoneCircle7" class="n"><use href="#b" x="1220" y="1386"/><text x="1220" y="1387.6">HormoneCircle-7</text></g>
<g id="n-DigestiveSystemDuct2" class="n"><use href="#b" x="1250" y="1381"/><text x="1250" y="1382.6">DigestiveSystemDuct-2</text></g>
<g id="n-RespiratoryCirculation3" class="n"><use href="#b" x="1279" y="1393"/><text x="1279" y="1394.6">RespiratoryCirculation-3</text></g>
<g id="n-CirculatorySystem1" class="n"><use href="#b" x="1193" y="1407"/><text x="1193" y="1408.6">CirculatorySystem-1</text></g>
<g id="n-CirculationOfBrain" class="n"><use href="#b" x="1302" y="1407"/><text x="1302" y="1408.6">(AnteriorAndMiddle)CirculationOfBrain-AHCB-6-1</text></g>
<g id="n-LeftSideCirculation" class="n"><use href="#b" x="1180" y="1429"/><text x="1180" y="1430.6">LeftSideCirculation-6-1-2</text></g>
<g id="n-WillisCircle62" class="n"><use href="#b" x="1206" y="1437"/><text x="1206" y="1438.6">WillisCircle-6-2</text></g>
<g id="n-PartCircleInHumanBody" class="n"><use href="#b" x="1242" y="1423"/><text x="1242" y="1424.6">PartCircleInHumanBody</text></g>
<g id="n-HepaticPortalVenousSystem5" class="n"><use href="#b" x="1282" y="1424"/><text x="1282" y="1425.6">HepaticPortalVenousSystem5</text></g>
<g id="n-P4Pathway" class="n"><use href="#b" x="1301" y="1444"/><text x="1301" y="1445.6">P4-Pathway-T-1-4</text></g>
<g id="n-CoronaryCirculation" class="n"><use href="#b" x="1277" y="1455"/><text x="1277" y="1456.6">CoronaryCirculation-1-2</text></g>
<g id="n-FSHPathway" class="n"><use href="#b" x="1193" y="1459"/><text x="1193" y="1460.6">FSH-Pathway-T-1-2</text></g>
<g id="n-PosteriorCirculation" class="n"><use href="#b" x="1242" y="1462"/><text x="1242" y="1463.6">PosteriorCirculationOfBrain-6-2</text></g>
<g id="n-NumberOfCircle" class="n"><use href="#b" x="1215" y="1472"/><text x="1215" y="1473.6">NumberOfCircle-17</text></g>
<g id="n-E2Pathway" class="n"><use href="#b" x="1269" y="1477"/><text x="1269" y="1478.6">E2-Pathway-T-1-3</text></g>
<g id="n-HormoneCircleT1" class="n"><use href="#b" x="1241" y="1486"/><text x="1241" y="1487.6">HormoneCircleOfFemaleReproductiveSystem-T-1</text></g>
</g>
</svg>
